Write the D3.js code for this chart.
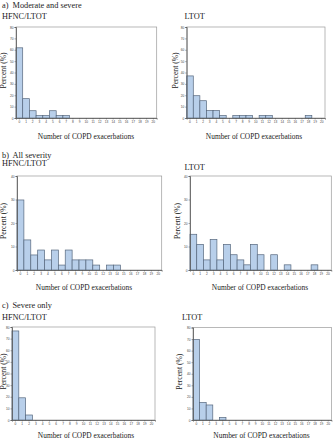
<!DOCTYPE html>
<html><head><meta charset="utf-8">
<script src="https://cdn.jsdelivr.net/npm/d3@7"></script>
<style>body{margin:0;background:#fff}svg{display:block}</style>
</head><body>
<svg id="c" width="333" height="440"></svg>
<script>
// Categories: number of COPD exacerbations 0..20
const exacerbations = d3.range(0, 21).map(String);
// Percent of patients
const modSevHFNC = [61.7, 17.0, 6.4, 2.1, 2.1, 6.4, 2.1, 2.1, 0, 0, 0, 0, 0, 0, 0, 0, 0, 0, 0, 0, 0];
const modSevLTOT = [37.0, 19.6, 15.2, 6.5, 6.5, 2.2, 0, 2.2, 2.2, 2.2, 0, 2.2, 2.2, 0, 0, 0, 0, 0, 2.2, 0, 0];
const allHFNC    = [29.8, 12.8, 6.4, 8.5, 4.3, 8.5, 2.1, 8.5, 4.3, 4.3, 4.3, 2.1, 0, 2.1, 2.1, 0, 0, 0, 0, 0, 0];
const allLTOT    = [15.2, 10.9, 4.3, 13.0, 4.3, 10.9, 6.5, 4.3, 2.2, 10.9, 6.5, 0, 6.5, 0, 2.2, 0, 0, 0, 2.2, 0, 0];
const sevHFNC    = [76.6, 19.1, 4.3, 0, 0, 0, 0, 0, 0, 0, 0, 0, 0, 0, 0, 0, 0, 0, 0, 0, 0];
const sevLTOT    = [69.6, 15.2, 13.0, 0, 2.2, 0, 0, 0, 0, 0, 0, 0, 0, 0, 0, 0, 0, 0, 0, 0, 0];
const yTicks80 = [0, 10, 20, 30, 40, 50, 60, 70, 80];
const yTicks40 = [0, 10, 20, 30, 40];
const sectionTitles = ["a)", "b)", "c)"];
const sectionNames = ["Moderate and severe", "All severity", "Severe only"];
const groupNames = ["HFNC/LTOT", "LTOT"];
const xLabel = "Number of COPD exacerbations";
const yLabel = "Percent (%)";

const svg = d3.select("#c");
const serif = "'Liberation Serif','DejaVu Serif',serif";

// layout
const panels = [
  {data: modSevHFNC, ticks: yTicks80, max: 80, x0: 16, x1: 156.7, y0: 27, y1: 118, yl: 6, xl: 86, xlY: 138.5, name: groupNames[0], nx: 2, ny: 19},
  {data: modSevLTOT, ticks: yTicks80, max: 80, x0: 186.7, x1: 325, y0: 27, y1: 118, yl: 178, xl: 254, xlY: 139, name: groupNames[1], nx: 184.5, ny: 19},
  {data: allHFNC, ticks: yTicks40, max: 40, x0: 17, x1: 161.7, y0: 176, y1: 270, yl: 6, xl: 84, xlY: 289.5, name: groupNames[0], nx: 2, ny: 166},
  {data: allLTOT, ticks: yTicks40, max: 40, x0: 190, x1: 331.3, y0: 176, y1: 270, yl: 180, xl: 260, xlY: 289.5, name: groupNames[1], nx: 184.5, ny: 170},
  {data: sevHFNC, ticks: yTicks80, max: 80, x0: 12, x1: 155, y0: 327, y1: 420, yl: 6, xl: 86, xlY: 438, name: groupNames[0], nx: 2, ny: 320},
  {data: sevLTOT, ticks: yTicks80, max: 80, x0: 193, x1: 331.5, y0: 327.5, y1: 420, yl: 182, xl: 261.5, xlY: 437.5, name: groupNames[1], nx: 182, ny: 320}
];
const sections = [{y: 8}, {y: 158}, {y: 308}];

sections.forEach((s, i) => {
  svg.append("text").attr("x", 2).attr("y", s.y).attr("font-family", serif).attr("font-size", 8.3).attr("fill", "#222").text(sectionTitles[i]);
  svg.append("text").attr("x", 12.5).attr("y", s.y).attr("font-family", serif).attr("font-size", 8.3).attr("fill", "#222").text(sectionNames[i]);
});

panels.forEach(p => {
  const g = svg.append("g");
  const x = d3.scaleBand().domain(exacerbations).range([p.x0, p.x1]).padding(0);
  const y = d3.scaleLinear().domain([0, p.max]).range([p.y1, p.y0]);

  // frame (top/right)
  g.append("rect").attr("x", p.x0).attr("y", p.y0).attr("width", p.x1 - p.x0).attr("height", p.y1 - p.y0)
    .attr("fill", "none").attr("stroke", "#9a9a9a").attr("stroke-width", 0.7);

  // bars
  g.selectAll("rect.bar").data(p.data.map((v, i) => ({k: exacerbations[i], v})).filter(d => d.v > 0))
    .join("rect").attr("class", "bar")
    .attr("x", d => x(d.k)).attr("width", x.bandwidth())
    .attr("y", d => y(d.v)).attr("height", d => y(0) - y(d.v))
    .attr("fill", "#b8cfea").attr("stroke", "#56677d").attr("stroke-width", 0.7);

  // axes
  const ax = g.append("g").attr("transform", `translate(0,${p.y1})`)
    .call(d3.axisBottom(x).tickSize(1.5).tickPadding(1));
  const ay = g.append("g").attr("transform", `translate(${p.x0},0)`)
    .call(d3.axisLeft(y).tickValues(p.ticks).tickSize(1.5).tickPadding(1));
  [ax, ay].forEach(a => {
    a.select(".domain").attr("stroke", "#555").attr("stroke-width", 0.8);
    a.selectAll(".tick line").attr("stroke", "#555").attr("stroke-width", 0.5);
    a.selectAll(".tick text").attr("font-size", 3.2).attr("font-family", "'Liberation Sans',Arial,sans-serif").attr("fill", "#444");
  });

  // axis labels
  svg.append("text").attr("x", p.xl).attr("y", p.xlY).attr("text-anchor", "middle")
    .attr("font-family", serif).attr("font-size", 7.4).attr("fill", "#222").text(xLabel);
  svg.append("text").attr("transform", `translate(${p.yl},${(p.y0 + p.y1) / 2 - 2}) rotate(-90)`).attr("text-anchor", "middle")
    .attr("font-family", serif).attr("font-size", 7.6).attr("fill", "#222").text(yLabel);
  // group name
  svg.append("text").attr("x", p.nx).attr("y", p.ny).attr("font-family", serif).attr("font-size", 8.3).attr("fill", "#222").text(p.name);
});
</script>
</body></html>
